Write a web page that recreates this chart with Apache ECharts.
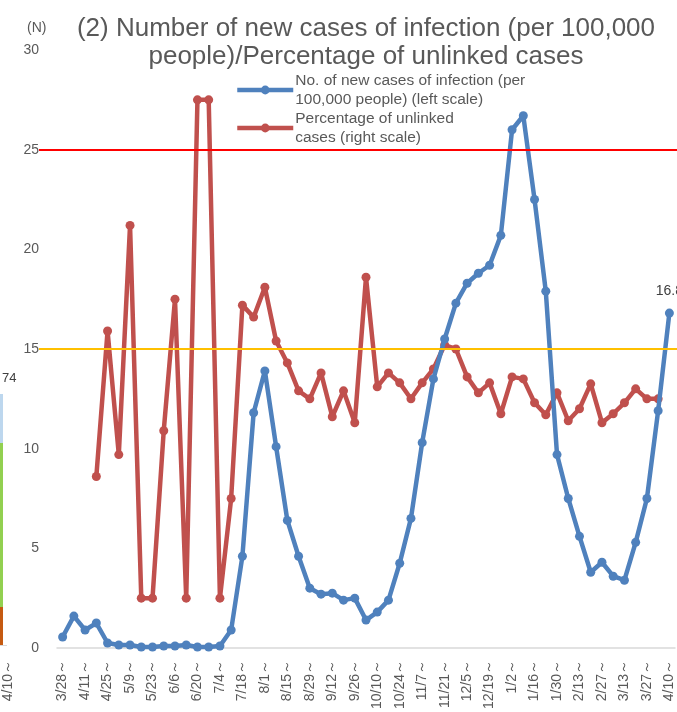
<!DOCTYPE html>
<html>
<head>
<meta charset="utf-8">
<script src="https://cdn.jsdelivr.net/npm/echarts@6/dist/echarts.min.js"></script>
<style>
html,body{margin:0;padding:0;overflow:hidden;background:#fff;}
#c{width:677px;height:712px;}
</style>
</head>
<body>
<div id="c"></div>
<script>
const weeks = ["3/28～","4/4～","4/11～","4/18～","4/25～","5/2～","5/9～","5/16～","5/23～","5/30～",
  "6/6～","6/13～","6/20～","6/27～","7/4～","7/11～","7/18～","7/25～","8/1～","8/8～",
  "8/15～","8/22～","8/29～","9/5～","9/12～","9/19～","9/26～","10/3～","10/10～","10/17～",
  "10/24～","10/31～","11/7～","11/14～","11/21～","11/28～","12/5～","12/12～","12/19～","12/26～",
  "1/2～","1/9～","1/16～","1/23～","1/30～","2/6～","2/13～","2/20～","2/27～","3/6～",
  "3/13～","3/20～","3/27～","4/3～","4/10～"];

const newCases = [0.55,1.6,0.9,1.25,0.25,0.15,0.15,0.05,0.05,0.1,
  0.1,0.15,0.05,0.05,0.1,0.9,4.6,11.8,13.9,10.1,
  6.4,4.6,3.0,2.7,2.75,2.4,2.5,1.4,1.8,2.4,
  4.25,6.5,10.3,13.5,15.5,17.3,18.3,18.8,19.2,20.7,
  26.0,26.7,22.5,17.9,9.7,7.5,5.6,3.8,4.3,3.6,
  3.4,5.3,7.5,11.9,16.8];

const unlinkedPct = [null,null,null,8.6,15.9,9.7,21.2,2.5,2.5,10.9,
  17.5,2.5,27.5,27.5,2.5,7.5,17.2,16.6,18.1,15.4,
  14.3,12.9,12.5,13.8,11.6,12.9,11.3,18.6,13.1,13.8,
  13.3,12.5,13.3,14.0,15.2,15.0,13.6,12.8,13.3,11.75,
  13.6,13.5,12.3,11.7,12.8,11.4,12.0,13.25,11.3,11.75,
  12.3,13.0,12.5,12.5,null];

const thresholds = [25, 15];
const thresholdColors = ["#FF0000", "#FFC000"];

const seriesNames = ["No. of new cases of infection (per\n100,000 people) (left scale)",
                     "Percentage of unlinked\ncases (right scale)"];

const FONT = "Liberation Sans, Arial, sans-serif";
const GREY = "#595959";
const BLUE = "#4F81BD";
const RED = "#C0504D";

const chart = echarts.init(document.getElementById('c'), null, {renderer: 'canvas'});
const lastIdx = newCases.length - 1;

chart.setOption({
  animation: false,
  backgroundColor: '#fff',
  textStyle: {fontFamily: FONT},
  title: {
    text: "(2) Number of new cases of infection (per 100,000\npeople)/Percentage of unlinked cases",
    left: 366, top: 15, padding: 0, textAlign: 'center',
    textStyle: {fontSize: 26, fontWeight: 'normal', color: GREY, lineHeight: 28, fontFamily: FONT}
  },
  legend: {
    orient: 'vertical', left: 235, top: 71, padding: 0, itemWidth: 56, itemHeight: 11, itemGap: 0,
    data: seriesNames,
    lineStyle: {width: 4.5},
    textStyle: {fontSize: 15.5, color: GREY, lineHeight: 19, fontFamily: FONT, padding: [0, 0, 0, -3]}
  },
  grid: {left: 57, right: 2, top: 50, bottom: 62, containLabel: false},
  xAxis: {
    type: 'category', data: weeks, boundaryGap: true,
    axisLine: {lineStyle: {color: '#D9D9D9', width: 1.5}},
    axisTick: {show: false},
    axisLabel: {interval: 1, rotate: 90, fontSize: 14, color: GREY, margin: 12, fontFamily: FONT}
  },
  yAxis: [
    {type: 'value', min: 0, max: 30, interval: 5,
     axisLine: {show: false}, axisTick: {show: false}, splitLine: {show: false},
     axisLabel: {fontSize: 14, color: GREY, margin: 18, fontFamily: FONT}},
    {type: 'value', min: 0, max: 30, interval: 5, show: false, splitLine: {show: false}}
  ],
  series: [
    {name: seriesNames[0], type: 'line', yAxisIndex: 0,
     data: newCases.map((v, i) => i === lastIdx ? {value: v, label: {show: true}} : v),
     symbol: 'circle', symbolSize: 9, showAllSymbol: true, color: BLUE,
     lineStyle: {width: 4.5, color: BLUE}, itemStyle: {color: BLUE},
     label: {show: false, position: 'top', distance: 10, fontSize: 14, color: '#404040', fontFamily: FONT},
     z: 3},
    {name: seriesNames[1], type: 'line', yAxisIndex: 1, data: unlinkedPct,
     symbol: 'circle', symbolSize: 9, showAllSymbol: true, color: RED, connectNulls: false,
     lineStyle: {width: 4.5, color: RED}, itemStyle: {color: RED},
     z: 2}
  ]
});

const gfx = [];
thresholds.forEach((t, i) => {
  const y = Math.round(chart.convertToPixel({yAxisIndex: 0}, t));
  gfx.push({type: 'line', z: 10, shape: {x1: 39, y1: y, x2: 677, y2: y},
            style: {stroke: thresholdColors[i], lineWidth: 2}});
});
// (N) unit label
gfx.push({type: 'text', x: 27, y: 28, style: {text: '(N)', fontSize: 14, fill: GREY, fontFamily: FONT, textVerticalAlign: 'middle'}});
// fragments of the neighbouring chart visible at the left edge
gfx.push({type: 'text', x: 2, y: 378, style: {text: '74', fontSize: 13, fill: '#404040', fontFamily: FONT, textVerticalAlign: 'middle'}});
gfx.push({type: 'rect', shape: {x: 0, y: 394, width: 3, height: 49}, style: {fill: '#BDD7EE'}});
gfx.push({type: 'rect', shape: {x: 0, y: 443, width: 3, height: 164}, style: {fill: '#92D050'}});
gfx.push({type: 'rect', shape: {x: 0, y: 607, width: 3, height: 38}, style: {fill: '#C55A11'}});
gfx.push({type: 'line', shape: {x1: 0, y1: 645.5, x2: 7, y2: 645.5}, style: {stroke: '#D9D9D9', lineWidth: 1}});
gfx.push({type: 'text', x: 8, y: 660, rotation: Math.PI / 2,
          style: {text: '4/10～', fontSize: 14, fill: GREY, fontFamily: FONT, textAlign: 'right', textVerticalAlign: 'middle'}});
chart.setOption({graphic: gfx});
</script>
</body>
</html>
